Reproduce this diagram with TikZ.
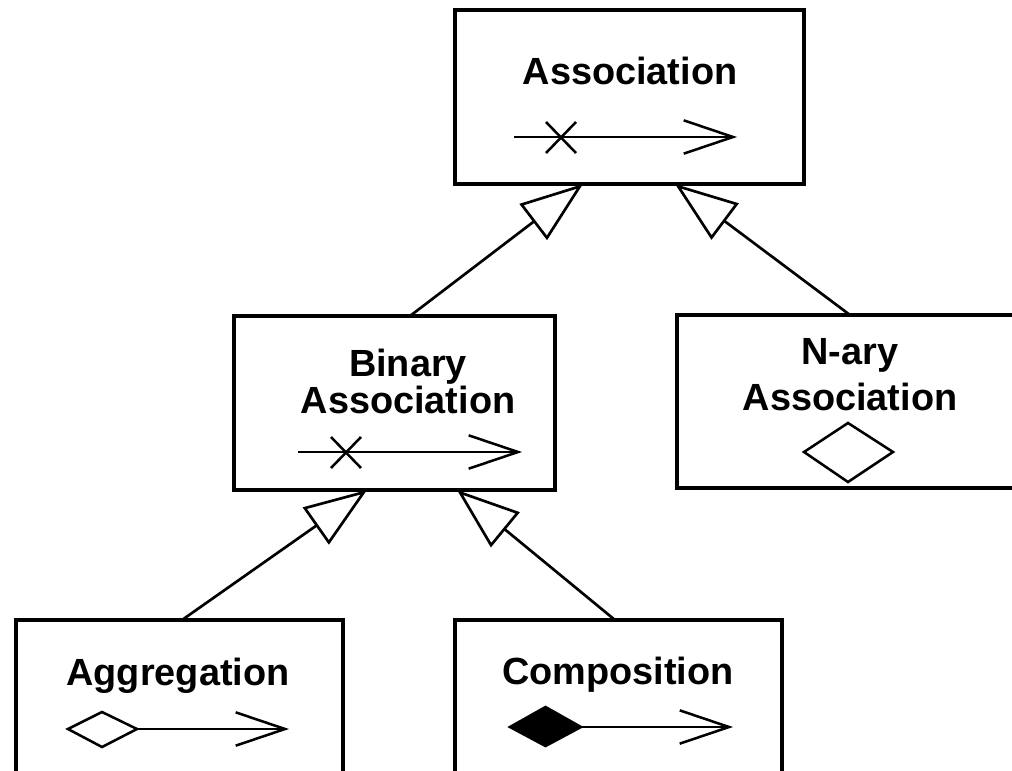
\documentclass[tikz,border=0pt]{standalone}
\usepackage{fontspec}
\setmainfont{Liberation Sans}
\usetikzlibrary{arrows.meta,calc}
\begin{document}
\begin{tikzpicture}[x=0.75pt,y=-0.75pt,
  box/.style={draw, line width=2.4pt, rectangle, inner sep=0pt, outer sep=0pt},
  lbl/.style={anchor=base, inner sep=0pt, font=\bfseries\fontsize{28.4}{34}\selectfont},
  gen/.style={line width=2pt, -{Triangle[open, length=47pt, width=33.75pt, line width=2pt]}},
  icon/.style={line width=1.9pt},
  nav/.style={icon, -{Straight Barb[length=37pt, width=25pt, line width=1.9pt]}},
]
\useasboundingbox (0,0) rectangle (1012,770);
\clip (0,0) rectangle (1012,770);

% boxes
\node[box, minimum width=261.75pt, minimum height=130.5pt] (assoc) at (629.5,97) {};
\node[box, minimum width=240.75pt, minimum height=130.5pt] (bin) at (394.5,403) {};
\node[box, minimum width=276pt, minimum height=129.75pt] (nary) at (861,401.5) {};
\node[box, minimum width=245.25pt, minimum height=157.5pt] (agg) at (179.5,725) {};
\node[box, minimum width=245.25pt, minimum height=157.5pt] (comp) at (618.5,725) {};

% labels
\node[lbl] (tassoc) at (630,85) {Association};
\node[lbl] (tbin1) at (408,376) {Binary};
\node[lbl] (tbin2) at (408,413) {Association};
\node[lbl] (tnary1) at (850,364) {N-ary};
\node[lbl] (tnary2) at (850,410) {Association};
\node[lbl] (tagg) at (178,685) {Aggregation};
\node[lbl] (tcomp) at (618,684) {Composition};

% generalization connectors
\draw[gen] ($(bin.north west)+(176,0)$) -- ($(assoc.south west)+(128,0)$);
\draw[gen] ($(nary.north west)+(173,0)$) -- ($(assoc.south west)+(220,0)$);
\draw[gen] ($(agg.north west)+(166,0)$) -- ($(bin.south west)+(133,0)$);
\draw[gen] ($(comp.north west)+(160,0)$) -- ($(bin.south west)+(223,0)$);

% icons
\draw[nav] (514,137) -- (737,137);
\draw[icon] (546,122) -- (576,153) (546,153) -- (576,122);

\draw[nav] (298,452) -- (522,452);
\draw[icon] (331,437) -- (361,468) (331,468) -- (361,437);

\draw[icon] (804,452) -- (848,423) -- (893,452) -- (848,482) -- cycle;

\draw[icon] (68,729) -- (102,712) -- (137,729) -- (102,747) -- cycle;
\draw[nav] (137,729) -- (289,729);

\draw[icon, fill=black] (510,727) -- (545.5,707) -- (581,727) -- (545.5,746) -- cycle;
\draw[nav] (581,727) -- (733,727);
\end{tikzpicture}
\end{document}
